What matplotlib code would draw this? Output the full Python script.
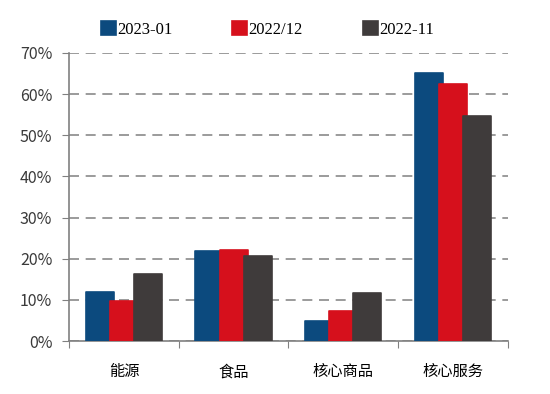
import numpy as np
import matplotlib
matplotlib.use("Agg")
import matplotlib.pyplot as plt
from matplotlib.ticker import FuncFormatter

plt.rcParams['font.family'] = ['Noto Sans CJK SC', 'DejaVu Sans']

# data (share, %)
categories = ['能源', '食品', '核心商品', '核心服务']
series_names = ['2023-01', '2022/12', '2022-11']
s_2023_01 = [12.0, 21.9, 4.8, 65.1]
s_2022_12 = [9.8, 22.2, 7.4, 62.4]
s_2022_11 = [16.2, 20.6, 11.6, 54.6]
colors = ['#0C4A7E', '#D6101C', '#3F3B3B']

fig = plt.figure(figsize=(5.5, 3.94), dpi=100)
ax = fig.add_axes([0.1255, 0.1345, 0.798, 0.731])

x = np.arange(len(categories))
offsets = [-0.22, 0.0, 0.22]
width = 0.255
for vals, off, c, name in zip([s_2023_01, s_2022_12, s_2022_11], offsets, colors, series_names):
    ax.bar(x + off, vals, width, color=c, edgecolor=c, linewidth=1.2,
           joinstyle='round', label=name, zorder=3)

ax.set_xlim(-0.5, len(categories) - 0.5)
ax.set_ylim(0, 70)
ax.set_yticks(np.arange(0, 71, 10))
ax.yaxis.set_major_formatter(FuncFormatter(lambda v, p: f'{v:.0f}%'))
ax.yaxis.grid(True, color='#8a8a8a', linestyle=(0, (6, 4)), linewidth=1.2, zorder=0)

ax.set_xticks(np.arange(-0.5, len(categories), 1.0))
ax.set_xticklabels([])
ax.set_xticks(x, minor=True)
ax.set_xticklabels(categories, minor=True, fontsize=11)
ax.tick_params(axis='x', which='minor', length=0, pad=16)
ax.tick_params(axis='x', which='major', length=5, color='#808080', direction='out')
ax.tick_params(axis='y', length=5, color='#808080', labelsize=11.5, labelcolor='#3a3a3a', pad=7)

for s in ['top', 'right']:
    ax.spines[s].set_visible(False)
for s in ['left', 'bottom']:
    ax.spines[s].set_color('#808080')
    ax.spines[s].set_linewidth(1.2)

fig.legend(loc='upper center', bbox_to_anchor=(0.486, 0.985), ncol=3, frameon=False,
           handlelength=0.9, handleheight=0.9, handletextpad=0.08, columnspacing=3.6,
           prop={'family': 'Liberation Serif', 'size': 12})

plt.savefig('out.png', dpi=100)
